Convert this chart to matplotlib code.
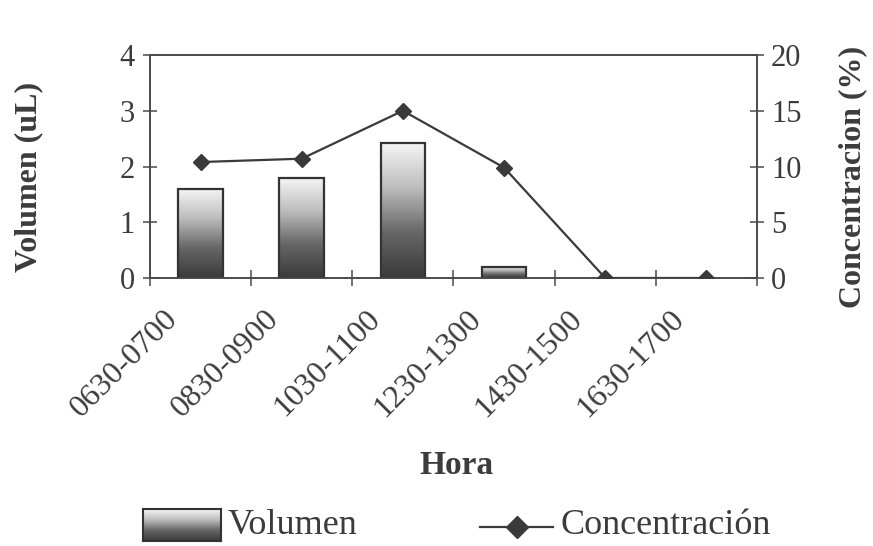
import matplotlib
matplotlib.use("Agg")
import matplotlib.pyplot as plt
import numpy as np
from matplotlib.patches import Rectangle
from matplotlib.lines import Line2D
from matplotlib import transforms

categories = ["0630-0700", "0830-0900", "1030-1100", "1230-1300", "1430-1500", "1630-1700"]
volumen = [1.6, 1.8, 2.43, 0.2, 0.0, 0.0]
concentracion = [10.4, 10.7, 15.0, 9.9, 0.0, 0.0]

plt.rcParams['font.family'] = ['Liberation Serif', 'DejaVu Serif']
grey = "#4a4a4a"
txt = "#3c3c3c"

fig = plt.figure(figsize=(8.73, 5.46), dpi=100)
ax = fig.add_axes([150/873, 1-278/546, (757-150)/873, (278-55)/546])
ax2 = ax.twinx()

x = np.arange(len(categories))

# gradient bars
grad = np.linspace(0, 1, 256).reshape(-1, 1)
cmap = matplotlib.colors.LinearSegmentedColormap.from_list("g", ["#3a3a3a", "#666666", "#bdbdbd", "#f6f6f6"])
bw = 0.44
for xi, v in zip(x, volumen):
    if v <= 0:
        continue
    rect = Rectangle((xi - bw/2, 0), bw, v, facecolor="none", edgecolor="#333333", lw=1.6, zorder=3)
    ax.add_patch(rect)
    im = ax.imshow(grad, extent=(xi - bw/2, xi + bw/2, 0, v), origin="lower", cmap=cmap,
                   aspect="auto", zorder=2, interpolation="bilinear")
    im.set_clip_path(rect)
ax.set_aspect("auto")
ax.set_xlim(-0.5, len(categories)-0.5)
ax.set_ylim(0, 4)
ax2.set_ylim(0, 20)

ax2.plot(x, concentracion, color="#3a3a3a", lw=1.6, marker="D", markersize=8,
         markerfacecolor="#3a3a3a", markeredgecolor="#3a3a3a", zorder=4)

for a in (ax, ax2):
    for s in a.spines.values():
        s.set_color(grey)
        s.set_linewidth(1.2)

ax.set_yticks([0, 1, 2, 3, 4])
ax2.set_yticks([0, 5, 10, 15, 20])
ax.tick_params(axis="y", direction="inout", length=10, width=1.1, color=grey,
               labelsize=22, labelcolor=txt, pad=6)
ax2.tick_params(axis="y", direction="inout", length=10, width=1.1, color=grey,
                labelsize=22, labelcolor=txt, pad=5)

ax.set_xticks(x)
ax.set_xticks(np.arange(len(categories)+1) - 0.5, minor=True)
ax.tick_params(axis="x", which="major", length=0, pad=0)
ax.tick_params(axis="x", which="minor", direction="inout", length=12, width=1.1, color=grey)
ax.set_xticklabels([])
offset = transforms.ScaledTranslation(-27/100, -37/100, fig.dpi_scale_trans)
for xi, c in zip(x, categories):
    ax.text(xi, 0, c, rotation=45, ha="right", va="center", rotation_mode="anchor",
            fontsize=23, color=txt, transform=ax.get_xaxis_transform() + offset)

ax.set_ylabel("Volumen (uL)", fontsize=23, fontweight="bold", color=txt)
ax.yaxis.set_label_coords(-0.176, 0.455)
ax2.set_ylabel("Concentracion (%)", fontsize=23, fontweight="bold", color=txt)
ax2.yaxis.set_label_coords(1.133, 0.455)
fig.text(456/873, 1-466/546, "Hora", fontsize=24, fontweight="bold", color=txt,
         ha="center", va="center")

# legend (manual)
lax = fig.add_axes([143/873, 1-541/546, (221-143)/873, (541-509)/546])
lax.imshow(grad[::-1], cmap=cmap, aspect="auto", extent=(0, 1, 0, 1), origin="upper")
lax.set_xticks([]); lax.set_yticks([])
for s in lax.spines.values():
    s.set_color("#333333"); s.set_linewidth(1.5)
fig.text(228/873, 1-526/546, "Volumen", fontsize=26, color=txt, ha="left", va="center")
fig.add_artist(Line2D([480/873, 553/873], [1-527/546, 1-527/546], color="#3a3a3a", lw=1.6,
                      transform=fig.transFigure))
fig.add_artist(Line2D([517/873], [1-527/546], marker="D", markersize=11, color="#3a3a3a",
                      transform=fig.transFigure))
fig.text(560/873, 1-526/546, "Concentración", fontsize=26, color=txt, ha="left", va="center")

fig.savefig("out.png", dpi=100, facecolor="white")
